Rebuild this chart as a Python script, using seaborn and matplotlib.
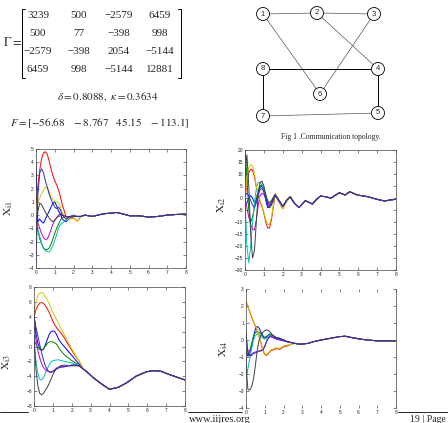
import numpy as np
import pandas as pd
import matplotlib
matplotlib.use('Agg')
import matplotlib.pyplot as plt
import seaborn as sns
from matplotlib.patches import Circle

# --- page text data ---
gamma = [[3239, 500, -2579, 6459],
         [500, 77, -398, 998],
         [-2579, -398, 2054, -5144],
         [6459, 998, -5144, 12881]]
delta = 0.8088
kappa = 0.3634
F_gain = [-56.68, -8.767, 45.15, -113.1]

# communication topology
nodes = [1, 2, 3, 4, 5, 6, 7, 8]
edges = [(1, 2), (2, 3), (1, 6), (3, 6), (2, 4), (8, 4), (4, 5), (8, 7), (7, 5)]

# --- trajectories ---
agents = ['1', '2', '3', '4', '5', '6', '7', '8']
t_head = [0, 0.05, 0.1, 0.2, 0.3, 0.4, 0.5, 0.6, 0.7, 0.8, 0.9, 1.0,
          1.1, 1.2, 1.3, 1.4, 1.6, 1.8, 2.0, 2.2, 2.4]

xi1 = {
    '1': [4.0, 1.5, -0.5, -0.3, -0.5, -0.6, -0.3, 0.0, 0.3, 0.6, 0.9, 1.0, 0.7, 0.3, 0.1, -0.3, -0.5, -0.2, -0.1, -0.1, -0.1],
    '2': [-0.4, -0.8, -1.2, -1.8, -2.2, -2.5, -2.6, -2.6, -2.5, -2.2, -1.8, -1.4, -1.0, -0.7, -0.4, -0.2, -0.1, -0.15, -0.1, -0.1, -0.1],
    '3': [0.9, 1.5, 2.2, 3.4, 4.3, 4.7, 4.8, 4.6, 4.1, 3.5, 3.0, 2.6, 2.3, 1.9, 1.4, 0.8, -0.1, -0.3, -0.2, -0.45, -0.1],
    '4': [-1.2, -1.0, -1.1, -1.6, -2.1, -2.5, -2.7, -2.75, -2.8, -2.6, -2.3, -1.9, -1.5, -1.0, -0.7, -0.6, -0.4, -0.2, -0.1, -0.1, -0.1],
    '5': [0.0, -0.3, -0.6, -1.0, -1.4, -1.7, -1.85, -1.8, -1.5, -1.1, -0.7, -0.4, -0.2, -0.1, -0.05, 0.0, -0.1, -0.2, -0.1, -0.1, -0.1],
    '6': [0.5, 0.8, 1.0, 1.3, 1.6, 1.9, 2.1, 2.1, 1.8, 1.4, 1.2, 1.05, 1.0, 0.9, 0.6, 0.2, -0.3, -0.25, -0.2, -0.45, -0.15],
    '7': [-1.5, -0.5, 0.3, 0.9, 0.8, 0.5, 0.2, 0.0, -0.2, -0.4, -0.5, -0.4, -0.2, 0.0, 0.1, 0.0, -0.1, -0.15, -0.1, -0.1, -0.1],
    '8': [-3.8, -1.0, 1.5, 3.2, 3.5, 3.2, 2.6, 2.1, 1.6, 1.2, 0.9, 0.6, 0.5, 0.6, 0.4, 0.0, -0.3, -0.1, 0.0, -0.1, -0.1],
}
xi1_tail_t = [2.6, 2.8, 3.0, 3.3, 3.6, 4.0, 4.3, 4.6, 5.0, 5.5, 6.0, 6.5, 7.0, 7.5, 8.0]
xi1_tail_v = [0.0, -0.05, -0.1, 0.0, 0.1, 0.15, 0.2, 0.1, -0.05, -0.05, -0.15, -0.1, 0.0, 0.05, 0.07]

xi2 = {
    '1': [-3, -3, -2, 0, 1, 0, -2, -1, 2, 4.5, 5, 3, -1, -4, -4, -2, 1.5, -1, -3.5, -1, 0.5],
    '2': [19, 15, 8, -5, -10, -8, -4, 0, 3, 5, 5.5, 4, 1.5, -1, -2, -1, 1.5, -1, -3.5, -1, 0.5],
    '3': [0, 3, 6, 10.5, 12, 11.5, 9, 4.5, 1, -1.5, -3.5, -6.5, -10, -12.5, -12.5, -9, 1.5, -1.5, -4.5, -1.5, 0.5],
    '4': [0, -10, -20, -27, -20, -10, -2, 4, 6.5, 6.5, 5.5, 3, 0, -2.5, -3, -2, 1, -1.5, -3.5, -1, 0.5],
    '5': [0, -2, -4, -8, -11, -13, -13.3, -9, -3, 1, 2, 1.5, 0, -1.5, -3, -2, 1, -1.5, -3.5, -1, 0.5],
    '6': [0, 4, 8, 12.5, 14, 13.5, 10, 5, 1.5, -1, -3, -6, -9, -11, -11, -8, 2, -1, -4.5, -1.5, 0.5],
    '7': [5, 15, 18, 5, -15, -25, -22, -10, 2, 6.5, 7, 5, 1, -3, -4, -3, 1, -1, -3.5, -1, 0.5],
    '8': [1, 1.5, 2, 1, -1, -3, -4, -2, 1, 3.5, 4, 2.5, 0, -2.5, -3, -1.5, 1.5, -1, -3.5, -1, 0.5],
}
xi2_tail_t = [2.6, 2.86, 3.2, 3.57, 3.8, 4.0, 4.3, 4.55, 4.8, 5.0, 5.3, 5.55, 5.95, 6.5, 7.0, 7.4, 7.7, 8.0]
xi2_tail_v = [-2.0, -4.0, -1.1, -2.5, -0.5, 0.8, 0.5, -0.1, 1.2, 2.2, 1.25, 2.6, 1.25, 0.55, -0.55, -1.25, -0.8, -0.55]

xi3 = {
    '1': [4.2, 3.0, 1.8, 0.5, -0.2, -0.5, -0.4, 0.2, 0.9, 1.6, 2.0, 2.1, 2.0, 1.6, 1.0, 0.6, 0.0, -0.6, -1.2, -1.8, -2.4],
    '2': [1.0, 0.6, 0.3, -0.1, -0.4, -0.5, -0.3, 0.0, 0.4, 0.6, 0.65, 0.6, 0.5, 0.3, -0.1, -0.5, -1.1, -1.5, -1.9, -2.2, -2.5],
    '3': [3.9, 4.4, 4.9, 5.5, 5.85, 5.9, 5.8, 5.5, 5.1, 4.6, 4.0, 3.4, 2.9, 2.5, 2.2, 1.9, 1.2, 0.3, -0.5, -1.3, -2.0],
    '4': [1.5, -0.5, -2.0, -3.6, -4.4, -4.5, -4.2, -3.6, -3.0, -2.5, -2.1, -1.9, -1.85, -1.8, -1.8, -1.85, -2.0, -2.1, -2.2, -2.4, -2.6],
    '5': [3.0, 2.0, 1.0, -0.5, -1.5, -2.3, -2.8, -3.1, -3.3, -3.4, -3.4, -3.3, -3.1, -2.9, -2.8, -2.7, -2.7, -2.6, -2.5, -2.5, -2.6],
    '6': [4.7, 5.4, 6.0, 6.8, 7.15, 7.25, 7.1, 6.7, 6.3, 5.8, 5.2, 4.6, 4.1, 3.6, 3.1, 2.6, 1.6, 0.6, -0.3, -1.2, -2.0],
    '7': [1.5, -1.0, -3.0, -5.2, -6.3, -6.5, -6.3, -5.9, -5.5, -5.0, -4.4, -3.8, -3.3, -3.0, -2.8, -2.6, -2.5, -2.6, -2.6, -2.6, -2.6],
    '8': [4.0, 3.4, 2.6, 1.5, 0.3, -0.8, -1.8, -2.6, -3.1, -3.4, -3.5, -3.4, -3.2, -3.0, -2.9, -2.8, -2.75, -2.6, -2.5, -2.5, -2.6],
}
xi3_tail_t = [2.6, 2.8, 3.1, 3.4, 3.7, 4.0, 4.45, 4.9, 5.4, 5.95, 6.3, 6.7, 7.2, 7.6, 8.0]
xi3_tail_v = [-3.0, -3.4, -4.1, -4.7, -5.25, -5.75, -5.5, -4.9, -4.0, -3.4, -3.25, -3.3, -3.8, -4.15, -4.5]

xi4 = {
    '1': [-0.7, -0.9, -0.95, -0.8, -0.4, 0.2, 0.65, 0.8, 0.7, 0.45, 0.25, 0.15, 0.2, 0.3, 0.35, 0.3, 0.15, 0.1, 0.0, -0.1, -0.15],
    '2': [-0.5, -0.8, -0.9, -0.6, -0.2, 0.2, 0.45, 0.5, 0.45, 0.35, 0.2, 0.1, 0.15, 0.3, 0.35, 0.3, 0.15, 0.05, 0.0, -0.1, -0.15],
    '3': [2.25, 2.1, 1.95, 1.65, 1.35, 1.05, 0.8, 0.55, 0.2, -0.2, -0.6, -0.85, -0.9, -0.8, -0.65, -0.6, -0.5, -0.55, -0.4, -0.35, -0.25],
    '4': [-2.2, -2.0, -1.7, -1.1, -0.5, 0.0, 0.25, 0.35, 0.3, 0.2, 0.1, 0.05, 0.1, 0.25, 0.3, 0.25, 0.1, 0.0, -0.05, -0.1, -0.15],
    '5': [0.4, -0.2, -0.6, -0.9, -0.85, -0.75, -0.7, -0.7, -0.65, -0.6, -0.55, -0.35, -0.05, 0.1, 0.2, 0.15, 0.05, 0.0, -0.05, -0.1, -0.15],
    '6': [2.3, 2.15, 2.0, 1.7, 1.4, 1.1, 0.85, 0.6, 0.25, -0.15, -0.55, -0.8, -0.85, -0.75, -0.6, -0.55, -0.45, -0.5, -0.35, -0.3, -0.25],
    '7': [-1.0, -2.2, -2.9, -2.95, -2.75, -2.3, -1.5, -0.6, 0.0, 0.3, 0.45, 0.55, 0.6, 0.55, 0.45, 0.3, 0.15, 0.1, 0.0, -0.1, -0.15],
    '8': [0.5, -0.3, -0.8, -0.95, -0.9, -0.8, -0.75, -0.7, -0.65, -0.65, -0.6, -0.4, -0.1, 0.15, 0.25, 0.2, 0.1, 0.05, 0.0, -0.1, -0.15],
}
xi4_tail_t = [2.6, 2.9, 3.3, 3.6, 4.0, 4.5, 5.0, 5.3, 5.6, 6.1, 6.5, 7.0, 7.5, 8.0]
xi4_tail_v = [-0.2, -0.25, -0.2, -0.1, 0.0, 0.1, 0.2, 0.22, 0.15, 0.05, 0.0, -0.05, -0.05, -0.05]

# MATLAB-ish line colours
colors = {'1': '#0000ff', '2': '#008000', '3': '#ff0000', '4': '#00bfbf',
          '5': '#bf00bf', '6': '#cccc00', '7': '#404040', '8': '#3030c0'}

# --- figure ---
sns.set_style('ticks')
plt.rcParams['font.family'] = ['Liberation Serif', 'DejaVu Serif']
plt.rcParams['mathtext.fontset'] = 'stix'

W, H = 448, 423
fig = plt.figure(figsize=(W / 100, H / 100), dpi=100)

# background layer in pixel coordinates
bg = fig.add_axes([0, 0, 1, 1])
bg.set_xlim(0, W)
bg.set_ylim(H, 0)
bg.axis('off')


def mtxt(v):
    return str(v).replace('-', '\u2212')


# Gamma matrix
bg.text(3, 43, r'$\Gamma =$', fontsize=9, va='center', ha='left')
col_x = [38, 79, 119, 160]
row_y = [15, 33, 52, 69]
for i, row in enumerate(gamma):
    for j, v in enumerate(row):
        bg.text(col_x[j], row_y[i], mtxt(v), fontsize=8, ha='center', va='center')
bk = dict(color='black', lw=0.7)
bg.plot([25, 22, 22, 25], [9, 9, 78, 78], **bk)
bg.plot([178, 181, 181, 178], [9, 9, 78, 78], **bk)

bg.text(108, 97, r'$\delta = %.4f,\ \kappa = %.4f$' % (delta, kappa),
        fontsize=8, ha='center', va='center')
f_str = r'\quad '.join(['%g' % v for v in F_gain])
bg.text(10, 123, r'$F = [' + f_str + ']$', fontsize=8, ha='left', va='center')

# topology graph
pos = {1: (263, 14), 2: (317, 13), 3: (374, 14), 8: (263, 69),
       4: (378, 69), 6: (320, 94), 7: (263, 116), 5: (378, 113)}
for a, b in edges:
    (x0, y0), (x1, y1) = pos[a], pos[b]
    diag = (x0 != x1) and (y0 != y1)
    bg.plot([x0, x1], [y0, y1], color='#555555' if diag else 'black',
            lw=0.5 if diag else 0.7, zorder=1)
for n in nodes:
    x, y = pos[n]
    bg.add_patch(Circle((x, y), 6.5, facecolor='white', edgecolor='black', lw=0.6, zorder=2))
    bg.text(x, y, str(n), fontsize=5.5, ha='center', va='center', zorder=3,
            family=['Liberation Sans', 'DejaVu Sans'])
bg.text(331, 137, 'Fig 1 .Communication topology.', fontsize=5.5, ha='center', va='center')

# footer
for x0, x1 in [(0, 28), (188, 242), (398, 448)]:
    bg.plot([x0, x1], [412, 412], color='black', lw=0.6)
bg.text(189, 419, 'www.iijres.org', fontsize=7.5, ha='left', va='center')
bg.text(446, 419, '19 | Page', fontsize=7, ha='right', va='center')

# trajectory panels: (label, data, tail t, tail v, box l,t,r,b, ylim, yticks, label xy, hide top/bottom)
panels = [
    ('i1', xi1, xi1_tail_t, xi1_tail_v, (36, 149, 186, 268), (-4, 5), np.arange(-4, 6, 1), (-0.14, 0.5), False),
    ('i2', xi2, xi2_tail_t, xi2_tail_v, (245, 150, 396, 270), (-30, 20), np.arange(-30, 21, 5), (-0.11, 0.54), False),
    ('i3', xi3, xi3_tail_t, xi3_tail_v, (34, 287, 185, 406), (-8, 8), np.arange(-8, 9, 2), (-0.14, 0.37), False),
    ('i4', xi4, xi4_tail_t, xi4_tail_v, (246, 289, 396, 408), (-4, 3), np.arange(-4, 4, 1), (-0.11, 0.5), True),
]

for name, data, tail_t, tail_v, (l, t, r, b), ylim, yticks, lab_xy, hide_tb in panels:
    ax = fig.add_axes([l / W, 1 - b / H, (r - l) / W, (b - t) / H])
    rows = []
    for ag in agents:
        for tt, vv in zip(t_head + tail_t, data[ag] + tail_v):
            rows.append((ag, tt, vv))
    df = pd.DataFrame(rows, columns=['agent', 't', 'v'])
    sns.lineplot(data=df, x='t', y='v', hue='agent', hue_order=agents, palette=colors,
                 estimator=None, legend=False, lw=0.7, ax=ax)
    ax.set_xlim(0, 8)
    ax.set_ylim(*ylim)
    ax.set_xticks(range(0, 9))
    ax.set_yticks(yticks)
    ax.set_xlabel('')
    ax.set_ylabel(r'$\mathrm{X}_{\mathrm{%s}}$' % name, fontsize=8)
    ax.yaxis.set_label_coords(*lab_xy)
    ax.tick_params(direction='in', length=2, width=0.4, top=True, right=True,
                   labelsize=3.5, pad=1.5, labelfontfamily='Liberation Sans')
    for sp in ax.spines.values():
        sp.set_linewidth(0.5)
        sp.set_color('#444444')
    if hide_tb:
        ax.spines['top'].set_visible(False)
        ax.spines['bottom'].set_visible(False)

fig.savefig('out.png', dpi=100)
